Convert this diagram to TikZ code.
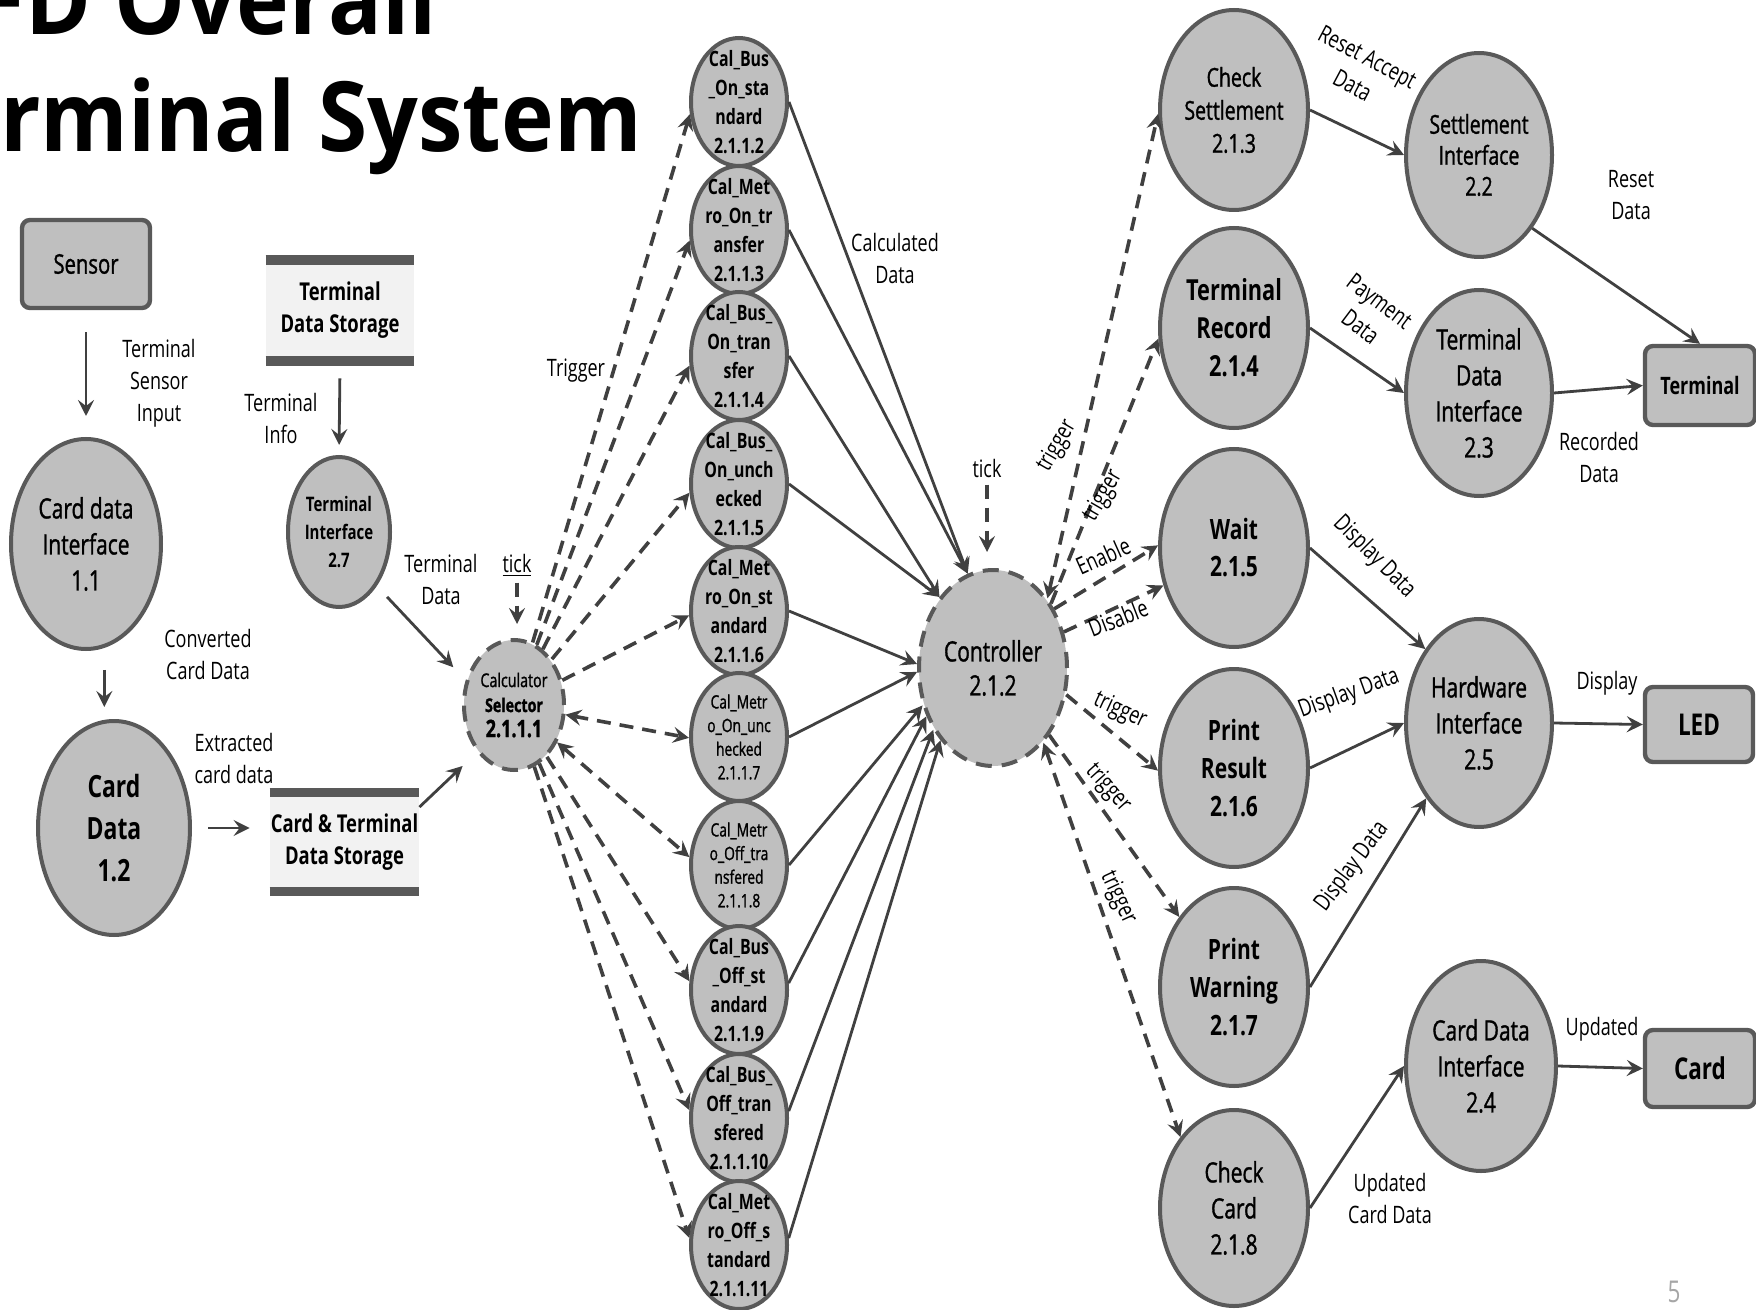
\documentclass[tikz,border=0pt]{standalone}
\usepackage{fontspec}
\setmainfont{Open Sans}[FakeStretch=0.75]
\newfontfamily\semib{Open Sans}[FakeStretch=0.75, FakeBold=1.2]
\newfontfamily\titlefont{Open Sans}[FakeStretch=0.92]
\usetikzlibrary{arrows.meta,shapes.geometric,calc}
\definecolor{gfill}{HTML}{BFBFBF}
\definecolor{bdr}{HTML}{595959}
\definecolor{lnc}{HTML}{404040}
\definecolor{sfill}{HTML}{F2F2F2}
\definecolor{pgnum}{HTML}{A6A6A6}
\newcommand{\fs}[2]{\fontsize{#1}{#2}\selectfont}
\begin{document}
\begin{tikzpicture}[x=0.5pt,y=-0.5pt,
  >={Stealth[length=8pt,width=8pt,inset=3pt]},
  proc/.style={ellipse, draw=bdr, line width=2pt, fill=gfill, inner sep=0pt},
  dproc/.style={proc, dash pattern=on 8pt off 5pt},
  ent/.style={rectangle, rounded corners=4pt, draw=bdr, line width=2.2pt, fill=gfill, inner sep=0pt, align=center},
  store/.style={rectangle, fill=sfill, inner sep=0pt, align=center},
  txt/.style={align=center, inner sep=0pt, text=black},
  flow/.style={draw=lnc, line width=1.4pt, ->},
  dflow/.style={draw=lnc, line width=1.8pt, dash pattern=on 7pt off 4.5pt, ->},
  lbl/.style={txt, font=\fs{12}{16}},
  calb/.style={txt, font=\bfseries\fs{10.6}{14.5}},
  calr/.style={txt, font=\semib\fs{9.2}{11.8}},
]
\useasboundingbox (0,0) rectangle (1756,1310);
\fill[white] (0,0) rectangle (1756,1310);
\clip (0,0) rectangle (1756,1310);

% title
\node[anchor=base east, inner sep=0pt, font=\titlefont\bfseries\fs{48.5}{50}] (title1) at (437,35) {FD Overall};
\node[anchor=base west, inner sep=0pt, font=\titlefont\bfseries\fs{48.5}{50}] (title2) at (0,152) {rminal System};

% left part
\node[ent, minimum width=64pt, minimum height=44pt, font=\semib\fs{13.5}{16}] (sensor) at (86,264) {Sensor};
\node[store, minimum width=74pt, minimum height=55.5pt, font=\bfseries\fs{12.3}{16}] (tds) at (340,310.5) {Terminal\\Data Storage};
\draw[draw=bdr, line width=5pt] ([yshift=-2.5pt]tds.north west) -- ([yshift=-2.5pt]tds.north east);
\draw[draw=bdr, line width=5pt] ([yshift=2.5pt]tds.south west) -- ([yshift=2.5pt]tds.south east);
\node[store, minimum width=74.5pt, minimum height=54pt, font=\bfseries\fs{12.3}{16}] (cts) at (344.5,842) {Card \& Terminal\\Data Storage};
\draw[draw=bdr, line width=4.5pt] ([yshift=-2.25pt]cts.north west) -- ([yshift=-2.25pt]cts.north east);
\draw[draw=bdr, line width=4.5pt] ([yshift=2.25pt]cts.south west) -- ([yshift=2.25pt]cts.south east);

\node[proc, minimum width=75pt, minimum height=105pt, label={[txt,font=\semib\fs{14}{18}]center:{Card data\\Interface\\1.1}}] (cdi) at (86,544) {};
\node[proc, minimum width=76pt, minimum height=107pt, label={[txt,font=\bfseries\fs{15.3}{21}]center:{Card\\Data\\1.2}}] (cd) at (114,828) {};
\node[proc, minimum width=51pt, minimum height=75pt, label={[txt,font=\bfseries\fs{10}{14}]center:{Terminal\\Interface\\2.7}}] (ti) at (339,532) {};
\node[dproc, minimum width=50pt, minimum height=65pt, label={[txt,font=\semib\fs{9.5}{12.5}]center:{Calculator\\{\bfseries Selector}\\{\bfseries\fs{12}{12.5}2.1.1.1}}}] (sel) at (514,705) {};

% calculators
\node[proc, minimum width=48pt, minimum height=64pt, label={[calb]center:{Cal\_Bus\\\_On\_sta\\ndard\\2.1.1.2}}] (c2) at (739,102) {};
\node[proc, minimum width=48pt, minimum height=64pt, label={[calb]center:{Cal\_Met\\ro\_On\_tr\\ansfer\\2.1.1.3}}] (c3) at (739,230) {};
\node[proc, minimum width=48pt, minimum height=64pt, label={[calb]center:{Cal\_Bus\_\\On\_tran\\sfer\\2.1.1.4}}] (c4) at (739,356) {};
\node[proc, minimum width=48pt, minimum height=64pt, label={[calb]center:{Cal\_Bus\_\\On\_unch\\ecked\\2.1.1.5}}] (c5) at (739,484) {};
\node[proc, minimum width=48pt, minimum height=64pt, label={[calb]center:{Cal\_Met\\ro\_On\_st\\andard\\2.1.1.6}}] (c6) at (739,611) {};
\node[proc, minimum width=48pt, minimum height=64pt, label={[calr]center:{Cal\_Metr\\o\_On\_unc\\hecked\\2.1.1.7}}] (c7) at (739,737) {};
\node[proc, minimum width=48pt, minimum height=64pt, label={[calr]center:{Cal\_Metr\\o\_Off\_tra\\nsfered\\2.1.1.8}}] (c8) at (739,865) {};
\node[proc, minimum width=48pt, minimum height=64pt, label={[calb]center:{Cal\_Bus\\\_Off\_st\\andard\\2.1.1.9}}] (c9) at (739,990) {};
\node[proc, minimum width=48pt, minimum height=64pt, label={[calb]center:{Cal\_Bus\_\\Off\_tran\\sfered\\2.1.1.10}}] (c10) at (739,1118) {};
\node[proc, minimum width=48pt, minimum height=64pt, label={[calb]center:{Cal\_Met\\ro\_Off\_s\\tandard\\2.1.1.11}}] (c11) at (739,1245) {};

% controller
\node[dproc, minimum width=74pt, minimum height=98pt, label={[txt,font=\semib\fs{14}{17}]center:{Controller\\2.1.2}}] (ctrl) at (993,668) {};

% right processes
\node[proc, minimum width=74pt, minimum height=100pt, label={[txt,font=\semib\fs{13}{16.5}]center:{Check\\Settlement\\2.1.3}}] (cs) at (1234,110) {};
\node[proc, minimum width=74pt, minimum height=100pt, label={[txt,font=\bfseries\fs{14.5}{19}]center:{Terminal\\Record\\2.1.4}}] (tr) at (1234,328) {};
\node[proc, minimum width=74pt, minimum height=99pt, label={[txt,font=\bfseries\fs{14}{18.5}]center:{Wait\\2.1.5}}] (wait) at (1234,548) {};
\node[proc, minimum width=74pt, minimum height=99pt, label={[txt,font=\bfseries\fs{14}{19}]center:{Print\\Result\\2.1.6}}] (pr) at (1234,768) {};
\node[proc, minimum width=74pt, minimum height=99pt, label={[txt,font=\bfseries\fs{14}{19}]center:{Print\\Warning\\2.1.7}}] (pw) at (1234,987) {};
\node[proc, minimum width=74pt, minimum height=98pt, label={[txt,font=\semib\fs{14}{18}]center:{Check\\Card\\2.1.8}}] (cc) at (1234,1208) {};
\node[proc, minimum width=73pt, minimum height=102pt, label={[txt,font=\semib\fs{13}{15.5}]center:{Settlement\\Interface\\2.2}}] (si) at (1479,155) {};
\node[proc, minimum width=73pt, minimum height=103pt, label={[txt,font=\semib\fs{14}{18}]center:{Terminal\\Data\\Interface\\2.3}}] (tdi) at (1479,393) {};
\node[proc, minimum width=73pt, minimum height=104pt, label={[txt,font=\semib\fs{14}{18}]center:{Hardware\\Interface\\2.5}}] (hw) at (1479,723) {};
\node[proc, minimum width=75pt, minimum height=105pt, label={[txt,font=\semib\fs{14}{18}]center:{Card Data\\Interface\\2.4}}] (cdi2) at (1481,1066) {};

% terminators
\node[ent, minimum width=55pt, minimum height=39.5pt, font=\bfseries\fs{12}{14}] (tbox) at (1700,385.5) {Terminal};
\node[ent, minimum width=54pt, minimum height=37.5pt, font=\bfseries\fs{15}{17}] (led) at (1699,724.5) {LED};
\node[ent, minimum width=55pt, minimum height=38.5pt, font=\bfseries\fs{15}{17}] (cardbox) at (1700,1068.5) {Card};

% tick labels
\node[lbl] (tick1) at (517,565) {\underline{tick}};
\node[lbl] (tick2) at (987,469) {tick};

% left connectors
\draw[flow, shorten <=11pt, shorten >=10.5pt] (sensor.south) -- (sensor.south |- cdi.north);
\draw[flow, shorten <=11pt, shorten >=6pt] (cdi.-80) -- (cdi.-80 |- cd.north);
\draw[flow, shorten <=8pt, shorten >=10pt] (cd.east) -- (cd.east -| cts.west);
\draw[flow, shorten <=6pt, shorten >=5pt] (tds.south) -- (ti.north);
\draw[flow, shorten >=10pt] (cts.25) -- (sel.232);
\draw[flow, shorten <=7.5pt, shorten >=9pt] (ti.-55) -- (sel.153);
\draw[dflow, shorten <=3pt, shorten >=7pt] (tick1.south) -- (tick1.south |- sel.north);
\draw[dflow, shorten <=3pt, shorten >=8pt] (tick2.south) -- (tick2.south |- ctrl.north);

% selector to calculators
\foreach \n/\a in {c2/194, c3/192, c4/191, c5/190, c6/185, c9/170, c10/171, c11/172}
  \draw[dflow] (sel) -- (\n.\a);
\draw[dflow, <->] (sel) -- (c7.181);
\draw[dflow, <->] (sel) -- (c8.171);

% calculators to controller
\foreach \n/\s/\a in {c2/east/105, c3/east/105, c4/east/127, c5/east/127, c6/east/177, c7/east/183, c8/east/208, c9/8/216, c10/8/226, c11/8/234}
  \draw[flow] (\n.\s) -- (ctrl.\a);

% controller outputs
\draw[dflow, <->] (ctrl.52) -- (cs.183);
\draw[dflow] (ctrl.48) -- (tr.188);
\draw[dflow] (ctrl.44) -- (wait.178);
\draw[dflow] (ctrl.27) -- (wait.208);
\draw[dflow] (ctrl.-20) -- (pr.182);
\draw[dflow] (ctrl.-50) -- (pw.128);
\draw[dflow, <->] (ctrl.-56) -- (cc.127);

% right connectors
\draw[flow] (cs.east) -- (si.west);
\draw[flow] (tr.east) -- (tdi.west);
\draw[flow] (si.-54) -- (tbox.north);
\draw[flow] (tdi.east) -- (tbox.west);
\draw[flow] (wait.east) -- (hw.126);
\draw[flow] (pr.east) -- (hw.west);
\draw[flow] (pw.east) -- (hw.235);
\draw[flow] (hw.east) -- (led.west);
\draw[flow] (cdi2.east) -- (cardbox.west);
\draw[flow] (cc.east) -- (cdi2.west);

% labels
\node[lbl] (lsens) at (159,383) {Terminal\\Sensor\\Input};
\node[lbl] (linfo) at (281,419) {Terminal\\Info};
\node[lbl] (lconv) at (208,654) {Converted\\Card Data};
\node[lbl] (lextr) at (234,758) {Extracted\\card data};
\node[lbl] (ltdat) at (441,579) {Terminal\\Data};
\node[lbl] (ltrig) at (576,371) {Trigger};
\node[lbl] (lcalc) at (895,259) {Calculated\\Data};
\node[lbl, rotate=60] (lt1) at (1057,446) {trigger};
\node[lbl, rotate=60] (lt2) at (1103,496) {trigger};
\node[lbl, rotate=24] (len) at (1103,556) {Enable};
\node[lbl, rotate=21] (ldis) at (1118,618) {Disable};
\node[lbl, rotate=-25] (lt3) at (1120,711) {trigger};
\node[lbl, rotate=-48] (lt4) at (1108,788) {trigger};
\node[lbl, rotate=-65] (lt5) at (1118,898) {trigger};
\node[lbl, rotate=-28] (lra) at (1360,71) {Reset Accept\\Data};
\node[lbl, rotate=-37] (lpay) at (1370,314) {Payment\\Data};
\node[lbl] (lreset) at (1631,195) {Reset\\Data};
\node[lbl] (lrec) at (1599,457) {Recorded\\Data};
\node[lbl, rotate=-45] (ld1) at (1374,557) {Display Data};
\node[lbl, rotate=20] (ld2) at (1349,694) {Display Data};
\node[lbl, rotate=53] (ld3) at (1352,867) {Display Data};
\node[lbl] (ldisp) at (1607,683) {Display};
\node[lbl] (lupd) at (1602,1029) {Updated};
\node[lbl] (lupd2) at (1390,1198) {Updated\\Card Data};
\node[font=\fs{15}{18}, text=pgnum, inner sep=0pt] (pgno) at (1674,1292) {5};
\end{tikzpicture}
\end{document}
